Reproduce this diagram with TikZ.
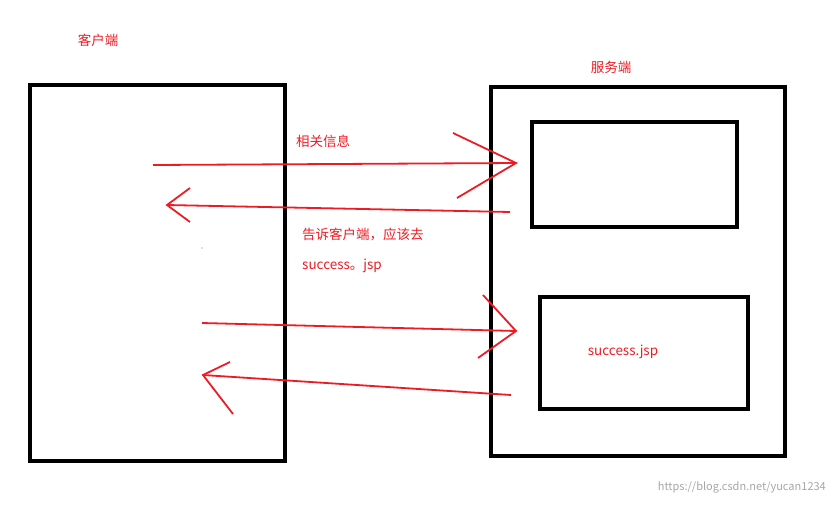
\documentclass[tikz,border=0pt]{standalone}
\usepackage{fontspec}
\setmainfont{Noto Sans CJK SC}
\definecolor{pr}{RGB}{237,28,36}
\begin{document}
\begin{tikzpicture}[x=1pt,y=-1pt,
  boxs/.style={draw=black,line width=4pt},
  arr/.style={draw=pr,line width=1.8pt},
  lbl/.style={text=pr,font=\fontsize{13.5}{16}\selectfont,inner sep=0pt},
  wm/.style={text=gray!70,font=\fontsize{11}{12}\selectfont,inner sep=0pt}]
\useasboundingbox (0,0) rectangle (835,506);
\node[boxs,minimum width=255pt,minimum height=376pt,anchor=north west] (client) at (28,83) {};
\node[boxs,minimum width=294pt,minimum height=369pt,anchor=north west] (server) at (489,85) {};
\node[boxs,minimum width=205pt,minimum height=105pt,anchor=north west] (in1) at (530,120) {};
\node[boxs,minimum width=208pt,minimum height=112pt,anchor=north west] (in2) at (538,295) {};
\coordinate (a1s) at (153,165); \coordinate (a1e) at (516,163);
\coordinate (a2s) at (510,212); \coordinate (a2e) at (167,205);
\coordinate (a3s) at (202,323); \coordinate (a3e) at (516,331);
\coordinate (a4s) at (511,395); \coordinate (a4e) at (203,375);
\draw[arr] (a1s) -- (a1e);
\draw[arr] (453,133) -- (a1e) -- (457,198);
\draw[arr] (a2s) -- (a2e);
\draw[arr] (190,188) -- (a2e) -- (190,222);
\draw[arr] (a3s) -- (a3e);
\draw[arr] (483,295) -- (a3e) -- (478,358);
\draw[arr] (a4s) -- (a4e);
\draw[arr] (230,362) -- (a4e) -- (233,414);
\node[lbl] (t1) at (98,40) {客户端};
\node[lbl] (t2) at (611,67) {服务端};
\node[lbl] (t3) at (323,141) {相关信息};
\node[lbl,anchor=west] (t4) at (302,234) {告诉客户端，应该去};
\node[lbl,anchor=west] (t5) at (302,266) {success。jsp};
\node[lbl] (t6) at (623,352) {success.jsp};
\node[wm,anchor=east] (w) at (826,487) {https://blog.csdn.net/yucan1234};
\fill[black!60] (202,248) circle (0.7pt);
\end{tikzpicture}
\end{document}
